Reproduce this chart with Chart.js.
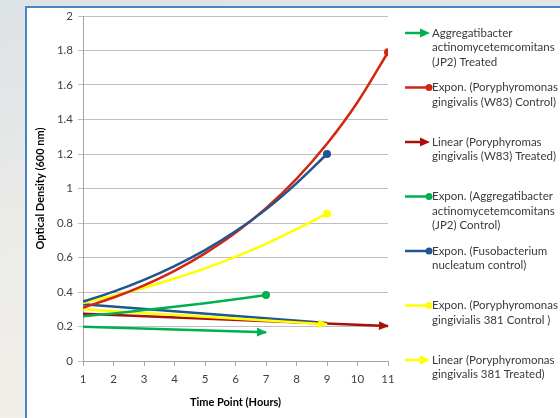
<!DOCTYPE html>
<html>
<head>
<meta charset="utf-8">
<script src="https://cdn.jsdelivr.net/npm/chart.js@4"></script>
<style>
  html, body { margin: 0; padding: 0; }
  body {
    width: 560px; height: 418px; overflow: hidden; position: relative;
    background: linear-gradient(170deg, #dde2e6 0%, #ebebe8 45%, #f4f1ea 100%);
  }
  #box {
    position: absolute; left: 25px; top: 6px; width: 540px; height: 420px;
    background: #fff; border-left: 2px solid #4a84c4; border-top: 2px solid #4a84c4;
  }
  #wrap { position: absolute; left: 0; top: 0; width: 560px; height: 418px; }
</style>
</head>
<body>
<div id="box"></div>
<div id="wrap"><canvas id="odChart" width="560" height="418"></canvas></div>
<script>
// Time points (hours)
const hours = [1, 2, 3, 4, 5, 6, 7, 8, 9, 10, 11];

// Trend lines, values
const jp2TreatedX = [1, 7];
const jp2TreatedY = [0.199, 0.166];

const w83ControlX = hours;
const w83ControlY = [0.309, 0.368, 0.439, 0.523, 0.624, 0.743, 0.886, 1.056, 1.259, 1.50, 1.79];

const w83TreatedX = [1, 11];
const w83TreatedY = [0.274, 0.203];

const jp2ControlX = [1, 2, 3, 4, 5, 6, 7];
const jp2ControlY = [0.259, 0.276, 0.295, 0.314, 0.335, 0.358, 0.382];

const fusoControlX = [1, 2, 3, 4, 5, 6, 7, 8, 9];
const fusoControlY = [0.344, 0.402, 0.470, 0.550, 0.643, 0.752, 0.879, 1.03, 1.20];

const pg381ControlX = [1, 2, 3, 4, 5, 6, 7, 8, 9];
const pg381ControlY = [0.336, 0.378, 0.425, 0.478, 0.537, 0.604, 0.679, 0.764, 0.854];

const pg381TreatedX = [1, 9];
const pg381TreatedY = [0.30, 0.213];

// unlabeled blue line (not in legend)
const fusoTreatedX = [1, 9];
const fusoTreatedY = [0.329, 0.22];

const legendLines = [
  ["Aggregatibacter", "actinomycetemcomitans", "(JP2) Treated"],
  ["Expon. (Poryphyromonas", "gingivalis (W83) Control)"],
  ["Linear (Poryphyromas", "gingivalis (W83) Treated)"],
  ["Expon. (Aggregatibacter", "actinomycetemcomitans", "(JP2) Control)"],
  ["Expon. (Fusobacterium", "nucleatum control)"],
  ["Expon. (Poryphyromonas", "gingivialis 381 Control )"],
  ["Linear (Poryphyromonas", "gingivalis 381 Treated)"]
];

const GREEN = "#00b050";
const RED = "#d3260f";
const DARKRED = "#a8100a";
const BLUE = "#1f5591";
const YELLOW = "#ffff00";

function pts(xs, ys) {
  return xs.map((x, i) => ({ x: x, y: ys[i] }));
}

function series(label, xs, ys, color, endMark, order, curve) {
  const last = xs.length - 1;
  return {
    label: label,
    data: pts(xs, ys),
    borderColor: color,
    backgroundColor: color,
    borderWidth: 2.5,
    fill: false,
    order: order,
    endMark: endMark,
    cubicInterpolationMode: curve ? "monotone" : "default",
    pointRadius: (ctx) => (endMark === "circle" && ctx.dataIndex === last ? 4 : 0),
    pointBorderWidth: 0,
    pointHoverRadius: 0
  };
}

const datasets = [
  series(legendLines[0].join(" "), jp2TreatedX, jp2TreatedY, GREEN, "arrow", 5, false),
  series(legendLines[1].join(" "), w83ControlX, w83ControlY, RED, "circle", 2, true),
  series(legendLines[2].join(" "), w83TreatedX, w83TreatedY, DARKRED, "arrow", 7, false),
  series(legendLines[3].join(" "), jp2ControlX, jp2ControlY, GREEN, "circle", 4, true),
  series(legendLines[4].join(" "), fusoControlX, fusoControlY, BLUE, "circle", 1, true),
  series(legendLines[5].join(" "), pg381ControlX, pg381ControlY, YELLOW, "circle", 3, true),
  series(legendLines[6].join(" "), pg381TreatedX, pg381TreatedY, YELLOW, "arrow", 6, false),
  series("", fusoTreatedX, fusoTreatedY, BLUE, "none", 8, false)
];

function drawArrowHead(ctx, x0, y0, x1, y1, color) {
  const ang = Math.atan2(y1 - y0, x1 - x0);
  const len = 9, half = 4.5;
  ctx.save();
  ctx.translate(x1, y1);
  ctx.rotate(ang);
  ctx.fillStyle = color;
  ctx.beginPath();
  ctx.moveTo(1, 0);
  ctx.lineTo(-len, -half);
  ctx.lineTo(-len, half);
  ctx.closePath();
  ctx.fill();
  ctx.restore();
}

const arrowPlugin = {
  id: "arrowEnds",
  afterDatasetDraw(chart, args) {
    const ds = chart.data.datasets[args.index];
    if (ds.endMark !== "arrow") return;
    const els = args.meta.data;
    const a = els[els.length - 2], b = els[els.length - 1];
    drawArrowHead(chart.ctx, a.x, a.y, b.x, b.y, ds.borderColor);
  }
};

const sideLegend = {
  id: "sideLegend",
  afterDraw(chart) {
    const ctx = chart.ctx;
    const x0 = 405, x1 = 429, tx = 432;
    ctx.save();
    ctx.font = "11.5px Lato";
    ctx.textBaseline = "middle";
    for (let i = 0; i < legendLines.length; i++) {
      const ds = chart.data.datasets[i];
      const y = 33 + i * 54.5;
      ctx.strokeStyle = ds.borderColor;
      ctx.lineWidth = 2.5;
      ctx.beginPath();
      ctx.moveTo(x0, y);
      ctx.lineTo(ds.endMark === "arrow" ? x1 - 4 : x1, y);
      ctx.stroke();
      if (ds.endMark === "arrow") {
        drawArrowHead(ctx, x0, y, x1, y, ds.borderColor);
      } else {
        ctx.fillStyle = ds.borderColor;
        ctx.beginPath();
        ctx.arc(x1, y, 3.5, 0, Math.PI * 2);
        ctx.fill();
      }
      ctx.fillStyle = "#3a3a3a";
      legendLines[i].forEach((line, j) => {
        ctx.fillText(line, tx, y + j * 14.5);
      });
    }
    ctx.restore();
  }
};

const tickFont = { family: "Lato", size: 11.5 };
const titleFont = { family: "Lato", size: 11, weight: "bold" };

new Chart(document.getElementById("odChart"), {
  type: "line",
  data: { datasets: datasets },
  options: {
    responsive: false,
    animation: false,
    events: [],
    layout: { padding: { left: 30, right: 172, top: 16, bottom: 8 } },
    plugins: { legend: { display: false }, tooltip: { enabled: false } },
    scales: {
      x: {
        type: "linear",
        min: 1,
        max: 11,
        ticks: { stepSize: 1, color: "#404040", font: tickFont, padding: 6, maxRotation: 0 },
        grid: { drawOnChartArea: false, drawTicks: true, tickLength: 5, color: "#a6a6a6" },
        border: { display: true, color: "#a6a6a6", width: 1 },
        title: { display: true, text: "Time Point (Hours)", color: "#000", font: titleFont, padding: { top: 0, bottom: 1 } },
        afterFit: (s) => { s.height = 49; }
      },
      y: {
        min: 0,
        max: 2,
        ticks: {
          stepSize: 0.2, color: "#404040", font: tickFont, padding: 5,
          callback: (v) => String(Number(v.toFixed(1)))
        },
        grid: { color: "#bfbfbf", tickLength: 5, lineWidth: 1 },
        border: { display: true, color: "#a6a6a6", width: 1 },
        title: { display: true, text: "Optical Density (600 nm)", color: "#000", font: titleFont, padding: { top: 4, bottom: 0 } },
        afterFit: (s) => { s.width = 53; }
      }
    }
  },
  plugins: [arrowPlugin, sideLegend]
});
</script>
</body>
</html>
